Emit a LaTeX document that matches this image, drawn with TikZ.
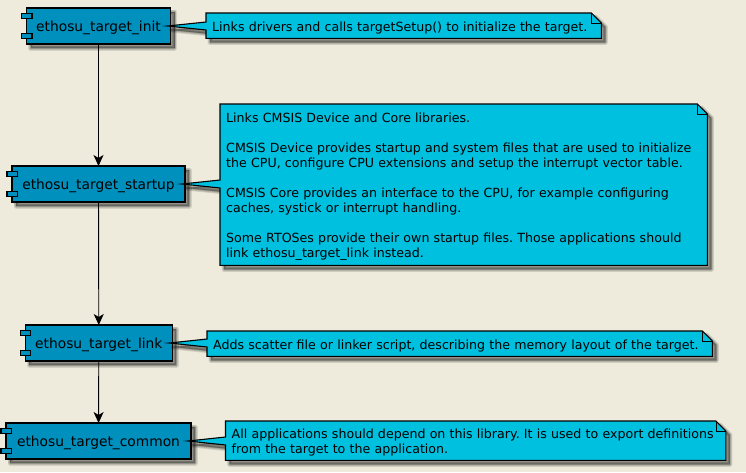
\documentclass[tikz,border=0pt]{standalone}
\usepackage{fontspec}
\setmainfont{DejaVu Sans}
\usetikzlibrary{arrows.meta,calc}
\definecolor{paper}{HTML}{EEEBDC}
\definecolor{compblue}{HTML}{0090BD}
\definecolor{noteblue}{HTML}{00C0E0}
\pgfdeclarelayer{complayer}
\pgfdeclarelayer{notelayer}
\pgfsetlayers{complayer,notelayer,main}
\frenchspacing
\tikzset{
  compbox/.style={minimum height=36pt,inner sep=0pt,outer sep=0pt,text height=14pt,text depth=3.5pt,
    font=\fontsize{13.8}{16}\selectfont},
  compline/.style={draw=black,fill=compblue,line width=1.1pt},
  notebox/.style={anchor=north west,inner xsep=6pt,inner ysep=0pt,align=left,
    font=\fontsize{12.62}{15.1}\selectfont,execute at begin node={\rule{0pt}{13.5pt}}},
  noteline/.style={draw=black,fill=noteblue,line width=1.1pt,line join=miter},
  softshadow/.style={draw=black,draw opacity=.11,fill=black,fill opacity=.11,line width=#1,line join=round,
    transform canvas={shift={(4pt,-4pt)}}},
  link/.style={-{Stealth[inset=3pt,length=11pt,width=10pt]},line width=.9pt}
}
% outline of a note with its pointer into the component
\newcommand{\noteoutline}[2]{(#2.north west) -- ($(#2.north east)+(-10,0)$) -- ($(#2.north east)+(0,10)$)
  -- (#2.south east) -- (#2.south west) -- ($(#2.west |- #1.east)+(0,4)$) -- ($(#1.east)+(-3,0)$)
  -- ($(#2.west |- #1.east)+(0,-4)$) -- cycle}
\newcommand{\drawnote}[2]{%
  \foreach \w in {5pt,3.5pt,2pt,.5pt} {\path[softshadow=\w] \noteoutline{#1}{#2};}
  \draw[noteline] \noteoutline{#1}{#2};
  \draw[noteline,fill=none,line width=.8pt] ($(#2.north east)+(-10,0)$) |- ($(#2.north east)+(0,10)$);
}
\newcommand{\drawcomp}[1]{%
  \foreach \w in {5pt,3.5pt,2pt,.5pt} {\path[softshadow=\w] (#1.north west) rectangle (#1.south east);}
  \draw[compline] (#1.north west) rectangle (#1.south east);
  \draw[compline] ($(#1.north west)+(-5,5.5)$) rectangle ++(10.5,5);
  \draw[compline] ($(#1.south west)+(-5,-10.5)$) rectangle ++(10.5,5);
}
\begin{document}
\begin{tikzpicture}[x=1pt,y=-1pt]
  \begin{pgfonlayer}{complayer}
    \fill[paper] (0,0) rectangle (746,472);
  \end{pgfonlayer}
  \useasboundingbox (0,0) rectangle (746,472);

  % components
  \node[compbox,minimum width=144pt] (init) at (98.5,26) {ethosu\_target\_init};
  \node[compbox,minimum width=173pt] (startup) at (98.5,184) {ethosu\_target\_startup};
  \node[compbox,minimum width=147pt] (link) at (98.8,343) {ethosu\_target\_link};
  \node[compbox,minimum width=185pt] (common) at (98.5,441) {ethosu\_target\_common};
  \begin{pgfonlayer}{complayer}
    \drawcomp{init}
    \drawcomp{startup}
    \drawcomp{link}
    \drawcomp{common}
  \end{pgfonlayer}
  \draw[link] (init) -- (startup);
  \draw[link] (startup) -- (link);
  \draw[link] (link) -- (common);

  % notes
  \node[notebox,text width=383pt,minimum height=25pt] (initnote) at (206,13)
    {Links drivers and calls targetSetup() to initialize the target.};
  \node[notebox,text width=475pt,minimum height=161pt] (startupnote) at (220,104)
    {Links CMSIS Device and Core libraries.\\[15.1pt]
     CMSIS Device provides startup and system files that are used to initialize\\
     the CPU, configure CPU extensions and setup the interrupt vector table.\\[15.1pt]
     CMSIS Core provides an interface to the CPU, for example configuring\\
     caches, systick or interrupt handling.\\[15.1pt]
     Some RTOSes provide their own startup files. Those applications should\\
     link ethosu\_target\_link instead.};
  \node[notebox,text width=493pt,minimum height=25pt] (linknote) at (207,331)
    {Adds scatter file or linker script, describing the memory layout of the target.};
  \node[notebox,text width=488pt,minimum height=39pt] (commonnote) at (225.5,421)
    {All applications should depend on this library. It is used to export definitions\\
     from the target to the application.};
  \begin{pgfonlayer}{notelayer}
    \drawnote{init}{initnote}
    \drawnote{startup}{startupnote}
    \drawnote{link}{linknote}
    \drawnote{common}{commonnote}
  \end{pgfonlayer}
\end{tikzpicture}
\end{document}
